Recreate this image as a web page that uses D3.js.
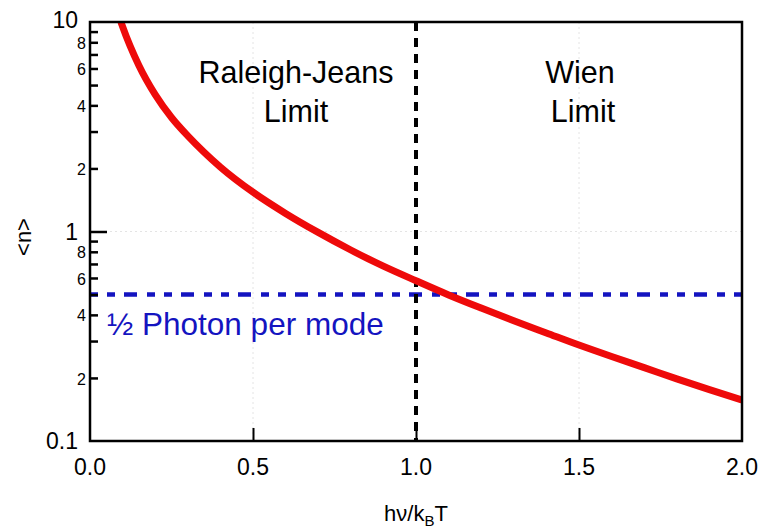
<!DOCTYPE html>
<html>
<head>
<meta charset="UTF-8">
<script src="https://d3js.org/d3.v7.min.js"></script>
<style>
  body { margin: 0; background: #fff; }
  text { font-family: "Liberation Sans", Arial, sans-serif; }
</style>
</head>
<body>
<div id="chart"></div>
<script>
// values
const xVals = [0.095, 0.1, 0.15, 0.2, 0.25, 0.3, 0.35, 0.4, 0.5, 0.6, 0.7, 0.8, 0.9, 1.0,
               1.1, 1.2, 1.3, 1.4, 1.5, 1.6, 1.7, 1.8, 1.9, 2.0];
const nVals = [10, 9.5, 6.2, 4.5, 3.5, 2.86, 2.39, 2.03, 1.54, 1.22, 0.99, 0.816, 0.683, 0.582,
               0.498, 0.431, 0.375, 0.328, 0.287, 0.253, 0.224, 0.198, 0.176, 0.157];
const xTicks = [0.0, 0.5, 1.0, 1.5, 2.0];
const yMajor = [0.1, 1, 10];
const yMinor = [0.2, 0.3, 0.4, 0.5, 0.6, 0.7, 0.8, 0.9, 2, 3, 4, 5, 6, 7, 8, 9];
const yMinorLabels = [0.2, 0.4, 0.6, 0.8, 2, 4, 6, 8];
const halfPhoton = 0.5;
const boundary = 1.0;

const W = 759, H = 529;
const margin = {top: 22, right: 17, bottom: 88, left: 90};
const width = W - margin.left - margin.right,
      height = H - margin.top - margin.bottom;

const svg = d3.select("#chart").append("svg")
  .attr("width", W).attr("height", H);
const g = svg.append("g").attr("transform", `translate(${margin.left},${margin.top})`);

const x = d3.scaleLinear().domain([0, 2]).range([0, width]);
const y = d3.scaleLog().domain([0.1, 10]).range([height, 0]);

// faint grid
g.selectAll(".gx").data([0.5, 1.5]).enter().append("line")
  .attr("x1", d => x(d)).attr("x2", d => x(d)).attr("y1", 0).attr("y2", height)
  .attr("stroke", "#e4e4e4").attr("stroke-dasharray", "2,3");
g.append("line").attr("x1", 0).attr("x2", width).attr("y1", y(1)).attr("y2", y(1))
  .attr("stroke", "#e4e4e4").attr("stroke-dasharray", "2,3");

// clip
svg.append("defs").append("clipPath").attr("id", "clip")
  .append("rect").attr("width", width).attr("height", height);

// half photon line
g.append("line")
  .attr("x1", 0).attr("x2", width)
  .attr("y1", y(halfPhoton)).attr("y2", y(halfPhoton))
  .attr("stroke", "#1414c0").attr("stroke-width", 4.5)
  .attr("stroke-dasharray", "8,9,8,9,13,10");

// boundary
g.append("line")
  .attr("x1", x(boundary)).attr("x2", x(boundary))
  .attr("y1", 0).attr("y2", height)
  .attr("stroke", "#000").attr("stroke-width", 4)
  .attr("stroke-dasharray", "9,7");

// curve
const line = d3.line().x((d, i) => x(xVals[i])).y((d, i) => y(nVals[i])).curve(d3.curveMonotoneX);
g.append("path")
  .attr("clip-path", "url(#clip)")
  .attr("d", line(nVals))
  .attr("fill", "none").attr("stroke", "#ee0a0a").attr("stroke-width", 7);

// axes (inward ticks)
const xAxis = d3.axisTop(x).tickValues(xTicks.slice(1, -1)).tickSize(13).tickFormat("");
g.append("g").attr("transform", `translate(0,${height})`).call(xAxis)
  .call(s => s.select(".domain").remove())
  .selectAll("line").attr("stroke-width", 2);

const yAxisMinor = d3.axisRight(y).tickValues(yMinor).tickSize(8).tickFormat("");
g.append("g").call(yAxisMinor).call(s => s.select(".domain").remove())
  .selectAll("line").attr("stroke-width", 2.5);
g.append("g").call(d3.axisRight(y).tickValues([1]).tickSize(17).tickFormat(""))
  .call(s => s.select(".domain").remove())
  .selectAll("line").attr("stroke-width", 2.5);

// frame
g.append("rect").attr("width", width).attr("height", height)
  .attr("fill", "none").attr("stroke", "#000").attr("stroke-width", 2.5);

// tick labels
g.selectAll(".xl").data(xTicks).enter().append("text")
  .attr("x", d => x(d)).attr("y", height + 34)
  .attr("text-anchor", "middle").attr("font-size", 23)
  .text(d => d.toFixed(1));

g.selectAll(".yl").data(yMajor).enter().append("text")
  .attr("x", -12).attr("y", d => y(d) + (d === 10 ? -2 : 0)).attr("dy", "0.35em")
  .attr("text-anchor", "end").attr("font-size", 23)
  .text(d => d === 0.1 ? "0.1" : d);

g.selectAll(".ym").data(yMinorLabels).enter().append("text")
  .attr("x", -4).attr("y", d => y(d) + 1).attr("dy", "0.35em")
  .attr("text-anchor", "end").attr("font-size", 16)
  .text(d => d < 1 ? Math.round(d * 10) : d);

// annotations
const ann = g.append("g").attr("font-size", 30.5).attr("text-anchor", "middle");
ann.append("text").attr("x", 296 - margin.left).attr("y", 83 - margin.top).text("Raleigh-Jeans");
ann.append("text").attr("x", 296 - margin.left).attr("y", 122 - margin.top).text("Limit");
ann.append("text").attr("x", 580 - margin.left).attr("y", 83 - margin.top).text("Wien");
ann.append("text").attr("x", 583 - margin.left).attr("y", 122 - margin.top).text("Limit");

g.append("text").attr("x", 107 - margin.left).attr("y", 335 - margin.top)
  .attr("font-size", 31.5).attr("fill", "#1414c0").text("½ Photon per mode");

// axis titles
svg.append("text").attr("transform", "translate(31,237) rotate(-90)")
  .attr("text-anchor", "middle").attr("font-size", 22).text("<n>");

const xt = svg.append("text").attr("x", margin.left + width / 2).attr("y", 521)
  .attr("text-anchor", "middle").attr("font-size", 22);
xt.append("tspan").text("hν/k");
xt.append("tspan").attr("font-size", 15).attr("dy", 5).text("B");
xt.append("tspan").attr("dy", -5).text("T");
</script>
</body>
</html>
